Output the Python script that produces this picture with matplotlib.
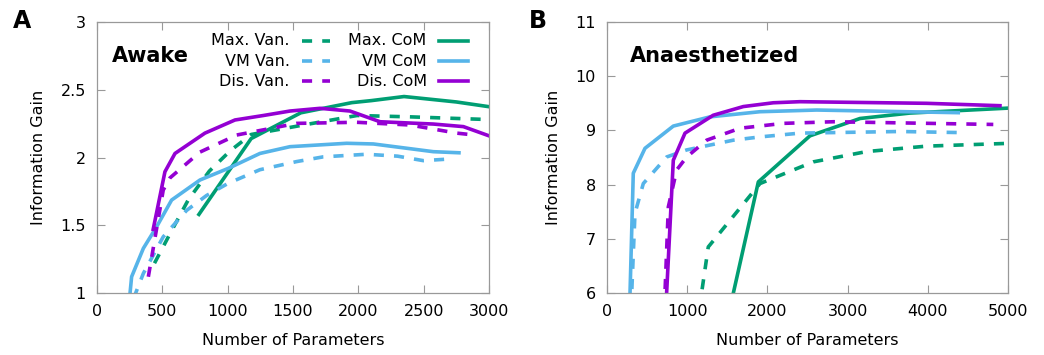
import matplotlib
matplotlib.use("Agg")
import matplotlib.pyplot as plt
from matplotlib.lines import Line2D

GREEN = "#009E73"
BLUE = "#56B4E9"
PURPLE = "#9400D3"

# ---- panel A (awake) ----
a_max_van_x = [440, 560, 700, 860, 1020, 1180, 1580, 1990, 2400, 3000]
a_max_van_y = [1.22, 1.44, 1.69, 1.90, 2.05, 2.17, 2.24, 2.31, 2.30, 2.28]
a_max_com_x = [780, 1180, 1560, 1950, 2100, 2350, 2750, 3000]
a_max_com_y = [1.58, 2.14, 2.33, 2.405, 2.42, 2.45, 2.41, 2.375]
a_vm_van_x = [280, 355, 507, 686, 839, 1005, 1247, 1528, 1732, 2064, 2300, 2497, 2715]
a_vm_van_y = [0.96, 1.145, 1.415, 1.61, 1.72, 1.81, 1.91, 1.97, 2.005, 2.024, 2.01, 1.977, 1.99]
a_vm_com_x = [245, 265, 355, 457, 571, 788, 1005, 1247, 1477, 1911, 2115, 2574, 2770]
a_vm_com_y = [0.92, 1.12, 1.33, 1.49, 1.686, 1.834, 1.92, 2.03, 2.08, 2.105, 2.10, 2.043, 2.035]
a_dis_van_x = [393, 507, 559, 788, 1069, 1528, 1987, 2395, 2753, 2850]
a_dis_van_y = [1.12, 1.76, 1.85, 2.04, 2.166, 2.252, 2.26, 2.24, 2.18, 2.17]
a_dis_com_x = [430, 520, 597, 826, 1056, 1273, 1477, 1707, 1936, 2166, 2574, 2804, 3000]
a_dis_com_y = [1.47, 1.895, 2.03, 2.18, 2.277, 2.31, 2.343, 2.363, 2.343, 2.264, 2.247, 2.228, 2.16]

# ---- panel B (anaesthetized) ----
b_max_van_x = [1150, 1263, 1368, 1908, 2573, 3238, 3986, 4984]
b_max_van_y = [5.7, 6.85, 7.04, 8.02, 8.42, 8.61, 8.71, 8.76]
b_max_com_x = [1530, 1887, 2531, 3155, 3778, 4984]
b_max_com_y = [5.7, 8.05, 8.90, 9.22, 9.32, 9.41]
b_vm_van_x = [300, 349, 453, 744, 994, 1575, 1908, 2406, 3653, 4401]
b_vm_van_y = [5.7, 7.47, 8.02, 8.51, 8.64, 8.82, 8.88, 8.95, 8.98, 8.96]
b_vm_com_x = [280, 328, 474, 827, 1284, 1908, 2615, 4380]
b_vm_com_y = [5.6, 8.21, 8.67, 9.08, 9.25, 9.345, 9.376, 9.327]
b_dis_van_x = [715, 765, 869, 994, 1243, 1658, 2198, 2822, 4817]
b_dis_van_y = [5.7, 7.59, 8.27, 8.51, 8.82, 9.04, 9.13, 9.16, 9.11]
b_dis_com_x = [730, 827, 973, 1325, 1700, 2074, 2406, 3986, 4900]
b_dis_com_y = [5.6, 8.45, 8.95, 9.28, 9.44, 9.51, 9.53, 9.50, 9.456]

legend_van = ["Max. Van.", "VM Van.", "Dis. Van."]
legend_com = ["Max. CoM", "VM CoM", "Dis. CoM"]

LW = 2.6
DASH = (2.8, 2.8)


def style_axes(ax, xlim, ylim, xticks, yticks):
    ax.set_xlim(*xlim)
    ax.set_ylim(*ylim)
    ax.set_xticks(xticks)
    ax.set_yticks(yticks)
    ax.set_yticklabels([("%g" % v) for v in yticks])
    ax.tick_params(direction="in", length=6, width=0.8, color="#999999",
                   top=True, right=True, labelsize=11.5, pad=8)
    for s in ax.spines.values():
        s.set_color("#999999")
        s.set_linewidth(0.9)
    ax.set_xlabel("Number of Parameters", fontsize=11.5, labelpad=10)
    ax.set_ylabel("Information Gain", fontsize=11.5, labelpad=10)


def main():
    fig = plt.figure(figsize=(10.44, 3.55), dpi=100)
    axA = fig.add_axes([0.0929, 0.1746, 0.3755, 0.7634])
    axB = fig.add_axes([0.5814, 0.1746, 0.3841, 0.7634])

    cols = [GREEN, BLUE, PURPLE]

    A = [(a_max_van_x, a_max_van_y, a_max_com_x, a_max_com_y),
         (a_vm_van_x, a_vm_van_y, a_vm_com_x, a_vm_com_y),
         (a_dis_van_x, a_dis_van_y, a_dis_com_x, a_dis_com_y)]
    B = [(b_max_van_x, b_max_van_y, b_max_com_x, b_max_com_y),
         (b_vm_van_x, b_vm_van_y, b_vm_com_x, b_vm_com_y),
         (b_dis_van_x, b_dis_van_y, b_dis_com_x, b_dis_com_y)]

    for ax, data in [(axA, A), (axB, B)]:
        for c, (vx, vy, cx, cy) in zip(cols, data):
            ax.plot(vx, vy, color=c, lw=LW, dashes=DASH, solid_capstyle="butt")
            ax.plot(cx, cy, color=c, lw=LW)

    style_axes(axA, (0, 3000), (1, 3), [0, 500, 1000, 1500, 2000, 2500, 3000],
               [1, 1.5, 2, 2.5, 3])
    style_axes(axB, (0, 5000), (6, 11), [0, 1000, 2000, 3000, 4000, 5000],
               [6, 7, 8, 9, 10, 11])

    # gnuplot-like key in panel A
    rows_y = [0.931, 0.856, 0.782]
    for i in range(3):
        y = rows_y[i]
        axA.text(0.492, y, legend_van[i], transform=axA.transAxes, ha="right",
                 va="center", fontsize=11.5)
        axA.add_line(Line2D([0.522, 0.594], [y, y], transform=axA.transAxes,
                            color=cols[i], lw=LW, dashes=DASH))
        axA.text(0.841, y, legend_com[i], transform=axA.transAxes, ha="right",
                 va="center", fontsize=11.5)
        axA.add_line(Line2D([0.873, 0.947], [y, y], transform=axA.transAxes,
                            color=cols[i], lw=LW))

    axA.text(0.0375, 0.875, "Awake", transform=axA.transAxes, fontsize=15,
             fontweight="bold", va="center", ha="left")
    axB.text(0.057, 0.875, "Anaesthetized", transform=axB.transAxes, fontsize=15,
             fontweight="bold", va="center", ha="left")

    fig.text(0.012, 0.94, "A", fontsize=17, fontweight="bold", va="center")
    fig.text(0.507, 0.94, "B", fontsize=17, fontweight="bold", va="center")

    fig.savefig("out.png", dpi=100)


if __name__ == '__main__':
    main()
